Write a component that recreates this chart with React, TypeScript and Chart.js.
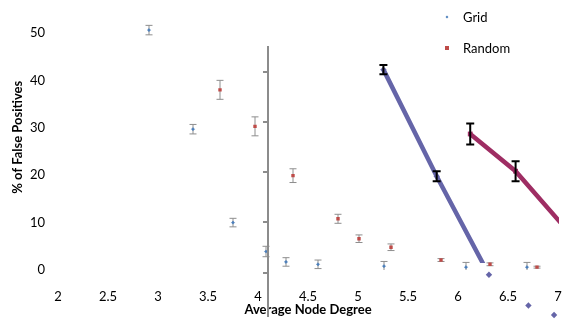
import React, { useEffect, useRef } from "react";
import { Chart, registerables } from "chart.js";

Chart.register(...registerables);

// ---------- data: main scatter chart ----------
const xTicks = [2, 2.5, 3, 3.5, 4, 4.5, 5, 5.5, 6, 6.5, 7];
const yTicks = [0, 10, 20, 30, 40, 50];

const gridX = [2.91, 3.35, 3.75, 4.08, 4.28, 4.6, 5.26, 6.08, 6.69];
const gridY = [50.6, 29.7, 10.0, 3.9, 1.7, 1.2, 0.8, 0.6, 0.6];
const gridErr = [1.0, 1.0, 0.9, 1.1, 0.9, 0.9, 1.0, 1.0, 1.0];

const randomX = [3.62, 3.97, 4.35, 4.8, 5.01, 5.33, 5.83, 6.32, 6.79];
const randomY = [38.0, 30.3, 19.9, 10.8, 6.6, 4.8, 2.1, 1.2, 0.6];
const randomErr = [2.0, 2.0, 1.45, 0.95, 0.8, 0.7, 0.3, 0.3, 0.2];

// ---------- data: overlaid inset chart ----------
const insetTicks = [0, 10, 20, 30, 40];
const insetGridX = [5.27, 5.81, 6.34, 6.74, 7.0];
const insetGridY = [40.4, 19.2, -0.4, -6.5, -8.4];
const insetGridErr = [0.9, 1.0, 0, 0, 0];
const insetRandomX = [6.15, 6.61, 7.1];
const insetRandomY = [27.6, 20.2, 9.2];
const insetRandomErr = [2.1, 2.0, 0];

const FONT = "Lato, 'Open Sans', sans-serif";
const BLUE = "#4a7ebb";
const RED = "#be4b48";
const LINE_BLUE = "#6565a8";
const LINE_RED = "#9e2d63";

const pts = (xs: number[], ys: number[]) => xs.map((x, i) => ({ x, y: ys[i] }));

function makeErrorPlugin(id: string, hook: "before" | "after") {
  const draw = (chart: any) => {
    const ctx = chart.ctx;
    const a = chart.chartArea;
    chart.data.datasets.forEach((ds: any, i: number) => {
      const errs: number[] | undefined = ds.errors;
      if (!errs) return;
      const meta = chart.getDatasetMeta(i);
      const xs = chart.scales[meta.xAxisID];
      const ys = chart.scales[meta.yAxisID];
      ctx.save();
      ctx.beginPath();
      const bottom = a.bottom + (ds.errClipBottom || 0);
      ctx.rect(0, a.top - 10, chart.width, bottom - a.top + 10);
      ctx.clip();
      ctx.strokeStyle = ds.errColor;
      ctx.lineWidth = ds.errWidth;
      ds.data.forEach((p: any, j: number) => {
        const e = errs[j];
        if (!e) return;
        const px = xs.getPixelForValue(p.x);
        const y1 = ys.getPixelForValue(p.y + e);
        const y2 = ys.getPixelForValue(p.y - e);
        const c = ds.errCap;
        ctx.beginPath();
        ctx.moveTo(px, y1);
        ctx.lineTo(px, y2);
        ctx.moveTo(px - c, y1);
        ctx.lineTo(px + c, y1);
        ctx.moveTo(px - c, y2);
        ctx.lineTo(px + c, y2);
        ctx.stroke();
      });
      ctx.restore();
    });
  };
  return hook === "before"
    ? { id, beforeDatasetsDraw: draw }
    : { id, afterDatasetsDraw: draw };
}

export default function App() {
  const mainRef = useRef<HTMLCanvasElement>(null);
  const insetRef = useRef<HTMLCanvasElement>(null);

  useEffect(() => {
    const main = new Chart(mainRef.current!, {
      type: "scatter",
      data: {
        datasets: [
          {
            label: "Grid",
            data: pts(gridX, gridY),
            pointStyle: "rectRot",
            pointRadius: 1.6,
            borderWidth: 0.5,
            backgroundColor: BLUE,
            borderColor: BLUE,
            errors: gridErr,
            errColor: "#8e8e8e",
            errWidth: 1,
            errCap: 3.5,
          } as any,
          {
            label: "Random",
            data: pts(randomX, randomY),
            pointStyle: "rect",
            pointRadius: 2.4,
            borderWidth: 0,
            backgroundColor: RED,
            borderColor: RED,
            errors: randomErr,
            errColor: "#8e8e8e",
            errWidth: 1,
            errCap: 3.5,
          } as any,
        ],
      },
      options: {
        animation: false,
        responsive: false,
        layout: { padding: { left: 10, right: 5, top: 0, bottom: 0 } },
        plugins: { legend: { display: false }, tooltip: { enabled: false } },
        scales: {
          x: {
            type: "linear",
            min: 2,
            max: 7,
            afterBuildTicks: (s: any) => {
              s.ticks = xTicks.map((v) => ({ value: v }));
            },
            afterFit: (s: any) => {
              s.height = 50;
              s.paddingLeft = 0;
              s.paddingRight = 0;
            },
            ticks: {
              font: { family: FONT, size: 13 },
              color: "#000",
              padding: 19,
              maxRotation: 0,
              autoSkip: false,
              callback: (v: any) => String(v),
            },
            grid: { display: false, drawTicks: false },
            border: { display: false },
            title: {
              display: true,
              text: "Average Node Degree",
              font: { family: FONT, size: 13, weight: "bold" },
              color: "#000",
              padding: { top: 0, bottom: 2 },
            },
          },
          y: {
            type: "linear",
            min: 0,
            max: 56,
            afterBuildTicks: (s: any) => {
              s.ticks = yTicks.map((v) => ({ value: v }));
            },
            afterFit: (s: any) => {
              s.width = 48;
              s.paddingTop = 0;
              s.paddingBottom = 0;
            },
            ticks: {
              font: { family: FONT, size: 13 },
              color: "#000",
              padding: 13,
            },
            grid: { display: false, drawTicks: false },
            border: { display: false },
            title: {
              display: true,
              text: "% of False Positives",
              font: { family: FONT, size: 13, weight: "bold" },
              color: "#000",
              padding: 0,
            },
          },
        },
      } as any,
      plugins: [makeErrorPlugin("errMain", "before")],
    });

    const inset = new Chart(insetRef.current!, {
      type: "scatter",
      data: {
        datasets: [
          {
            label: "GridLine",
            data: pts(insetGridX, insetGridY),
            showLine: true,
            pointRadius: 0,
            borderColor: LINE_BLUE,
            borderWidth: 4.5,
            tension: 0,
            clip: { left: false, top: false, right: 0, bottom: -53 },
            errors: insetGridErr,
            errColor: "#000",
            errWidth: 2,
            errCap: 4,
            errClipBottom: -53,
          } as any,
          {
            label: "GridMarkers",
            data: pts(insetGridX, insetGridY),
            showLine: false,
            pointStyle: "rectRot",
            pointRadius: 3.2,
            borderWidth: 0,
            backgroundColor: LINE_BLUE,
            clip: false,
          } as any,
          {
            label: "RandomLine",
            data: pts(insetRandomX, insetRandomY),
            showLine: true,
            pointRadius: 0,
            borderColor: LINE_RED,
            borderWidth: 4.5,
            tension: 0,
            clip: { left: false, top: false, right: 0, bottom: -53 },
            errors: insetRandomErr,
            errColor: "#000",
            errWidth: 2,
            errCap: 4,
            errClipBottom: -53,
          } as any,
          {
            label: "RandomMarkers",
            data: pts(insetRandomX, insetRandomY),
            showLine: false,
            pointStyle: "rect",
            pointRadius: 3.4,
            borderWidth: 0,
            backgroundColor: LINE_RED,
            clip: false,
          } as any,
        ],
      },
      options: {
        animation: false,
        responsive: false,
        layout: { padding: { left: 258, right: 0, top: 47, bottom: 0 } },
        plugins: { legend: { display: false }, tooltip: { enabled: false } },
        scales: {
          x: { type: "linear", display: false, min: 4.1, max: 7.05 },
          y: {
            type: "linear",
            min: -8.6,
            max: 44.9,
            afterBuildTicks: (s: any) => {
              s.ticks = insetTicks.map((v) => ({ value: v }));
            },
            afterFit: (s: any) => {
              s.width = 10;
              s.paddingTop = 0;
              s.paddingBottom = 0;
            },
            ticks: { display: false },
            grid: {
              drawOnChartArea: false,
              drawTicks: true,
              tickLength: 5,
              color: "#8c8c8c",
              lineWidth: 2,
            },
            border: { display: true, color: "#8c8c8c", width: 2 },
          },
        },
      } as any,
      plugins: [makeErrorPlugin("errInset", "after")],
    });

    return () => {
      main.destroy();
      inset.destroy();
    };
  }, []);

  const legendText: React.CSSProperties = {
    position: "absolute",
    left: 463,
    fontFamily: FONT,
    fontSize: 13,
    lineHeight: "16px",
    color: "#000",
    whiteSpace: "nowrap",
  };

  return (
    <div
      style={{
        position: "fixed",
        left: 0,
        top: 0,
        width: 563,
        height: 320,
        background: "#fff",
        overflow: "hidden",
      }}
    >
      <canvas
        ref={mainRef}
        width={563}
        height={320}
        style={{ position: "absolute", left: 0, top: 0 }}
      />
      <canvas
        ref={insetRef}
        width={563}
        height={320}
        style={{ position: "absolute", left: 0, top: 0 }}
      />
      <div
        style={{
          position: "absolute",
          left: 446,
          top: 16,
          width: 2,
          height: 2,
          background: BLUE,
          transform: "rotate(45deg)",
        }}
      />
      <div style={{ ...legendText, top: 9 }}>Grid</div>
      <div
        style={{
          position: "absolute",
          left: 445,
          top: 46,
          width: 4,
          height: 4,
          background: RED,
        }}
      />
      <div style={{ ...legendText, top: 40 }}>Random</div>
    </div>
  );
}
